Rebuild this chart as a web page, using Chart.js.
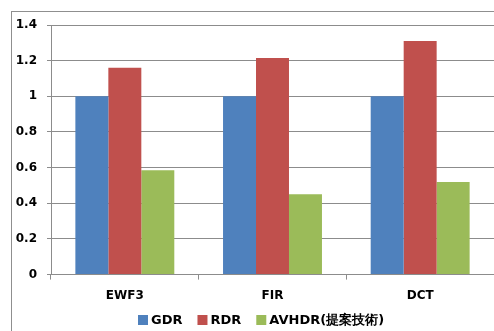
<!DOCTYPE html>
<html>
<head>
<meta charset="utf-8">
<script src="https://cdn.jsdelivr.net/npm/chart.js@4"></script>
<style>
  html, body { margin: 0; padding: 0; background: #fff; }
  #wrap { width: 494px; height: 331px; position: relative; }
</style>
</head>
<body>
<div id="wrap"><canvas id="chart"></canvas></div>
<script>
const categories = ["EWF3", "FIR", "DCT"];
const seriesNames = ["GDR", "RDR", "AVHDR(提案技術)"];
const gdr = [1, 1, 1];
const rdr = [1.16, 1.215, 1.31];
const avhdr = [0.585, 0.45, 0.52];
const yTicks = [0, 0.2, 0.4, 0.6, 0.8, 1, 1.2, 1.4];

const colors = ["#4F81BD", "#C0504D", "#9BBB59"];
const FONT = "'DejaVu Sans', sans-serif";

// outer frame like the Excel chart border
const framePlugin = {
  id: "frame",
  beforeDraw(chart) {
    const c = chart.ctx;
    c.save();
    c.fillStyle = "#fff";
    c.fillRect(0, 0, chart.width, chart.height);
    c.strokeStyle = "#8f8f8f";
    c.lineWidth = 1;
    c.strokeRect(11.5, 11.5, chart.width + 20, chart.height + 20);
    c.restore();
  }
};

// Excel style legend: small square, short gap, text
const legendPlugin = {
  id: "xlLegend",
  afterDraw(chart) {
    const c = chart.ctx;
    const box = 10, gapText = 3, gapItem = 15;
    c.save();
    c.font = "bold 13px " + FONT;
    c.textBaseline = "middle";
    const items = chart.data.datasets.map(ds => ({
      text: ds.label, color: ds.backgroundColor, w: c.measureText(ds.label).width
    }));
    const total = items.reduce((s, it) => s + box + gapText + it.w, 0) + gapItem * (items.length - 1);
    let x = Math.round(chart.width / 2 + 14 - total / 2);
    const y = 320;
    items.forEach(it => {
      c.fillStyle = it.color;
      c.fillRect(x, y - 5, box, box);
      c.fillStyle = "#000";
      c.fillText(it.text, x + box + gapText, y + 1);
      x += box + gapText + it.w + gapItem;
    });
    c.restore();
  }
};

const ctx = document.getElementById("chart").getContext("2d");
new Chart(ctx, {
  type: "bar",
  data: {
    labels: categories,
    datasets: [gdr, rdr, avhdr].map((vals, i) => ({
      label: seriesNames[i],
      data: vals,
      backgroundColor: colors[i],
      borderWidth: 0,
      barPercentage: 1,
      categoryPercentage: 0.67
    }))
  },
  options: {
    responsive: true,
    maintainAspectRatio: false,
    animation: false,
    layout: { padding: { left: 0, right: 0, top: 25, bottom: 19 } },
    plugins: {
      legend: { display: false },
      tooltip: { enabled: false }
    },
    scales: {
      x: {
        grid: {
          offset: true,
          drawOnChartArea: false,
          drawTicks: true,
          tickLength: 5,
          color: "#8c8c8c"
        },
        border: { color: "#8c8c8c" },
        ticks: {
          color: "#000",
          padding: 9,
          font: { family: FONT, size: 12, weight: "bold" }
        }
      },
      y: {
        min: 0,
        max: 1.4,
        afterBuildTicks(scale) {
          scale.ticks = yTicks.map(v => ({ value: v }));
        },
        afterFit(scale) { scale.width = 51; },
        grid: { color: "#8c8c8c", tickLength: 4 },
        border: { color: "#8c8c8c" },
        ticks: {
          color: "#000",
          padding: 10,
          font: { family: FONT, size: 12, weight: "bold" },
          callback: v => String(Number(v.toFixed(1)))
        }
      }
    }
  },
  plugins: [framePlugin, legendPlugin]
});
</script>
</body>
</html>
